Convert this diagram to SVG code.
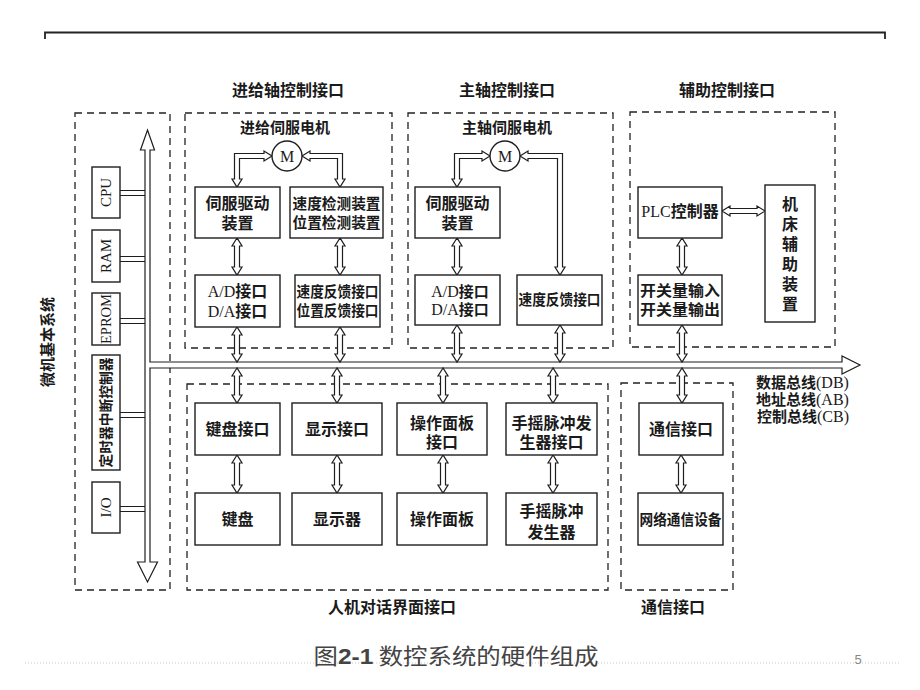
<svg xmlns="http://www.w3.org/2000/svg" width="920" height="690" viewBox="0 0 920 690">
<style>
.dash{fill:none;stroke:#222;stroke-width:1.3;stroke-dasharray:7 5}
.box{fill:#fff;stroke:#1e1e1e;stroke-width:1.4}
.arr{fill:#fff;stroke:#1e1e1e;stroke-width:1.2;stroke-linejoin:miter}
.ln{fill:none;stroke:#1e1e1e;stroke-width:1.2}
.t{font-family:"Noto Sans CJK SC","Noto Sans CJK JP",sans-serif;font-weight:700;font-size:15px;fill:#1a1a1a;text-anchor:middle}
.b{font-size:16px}
.lat{font-family:"Liberation Serif",serif;font-weight:400}
.cap{font-family:"Noto Sans CJK SC",sans-serif;font-weight:400;font-size:22px;fill:#444;text-anchor:middle}
</style>
<rect width="920" height="690" fill="#fff"/>
<path d="M45,39 V32.5 H885 V39" fill="none" stroke="#222" stroke-width="1.8"/>
<line x1="25" y1="663" x2="900" y2="663" stroke="#c8c8c8" stroke-width="1" stroke-dasharray="1 2"/>

<g id="frames">
<rect class="dash" x="75" y="113" width="95" height="477"/>
<rect class="dash" x="185" y="113" width="207" height="235"/>
<rect class="dash" x="408" y="113" width="205" height="235"/>
<rect class="dash" x="630" y="112" width="205" height="235"/>
<rect class="dash" x="187" y="384" width="421" height="206"/>
<rect class="dash" x="621" y="383" width="112" height="207"/>
</g>

<g id="labels">
<text class="t b" x="288" y="96">进给轴控制接口</text>
<text class="t b" x="507" y="96">主轴控制接口</text>
<text class="t b" x="727" y="96">辅助控制接口</text>
<text class="t b" x="392" y="613">人机对话界面接口</text>
<text class="t b" x="673" y="613">通信接口</text>
<text class="t" transform="translate(53,342) rotate(-90)">微机基本系统</text>
<text class="t" style="text-anchor:start"><tspan x="756" y="388">数据总线</tspan><tspan class="lat" style="font-size:16px">(DB)</tspan><tspan x="756" y="405">地址总线</tspan><tspan class="lat" style="font-size:16px">(AB)</tspan><tspan x="757" y="422">控制总线</tspan><tspan class="lat" style="font-size:16px">(CB)</tspan></text>
</g>

<g id="connectors">
<polygon class="arr" points="147.5,130 154.5,150 150,150 150,562 157.5,562 147.5,582 137.5,562 145,562 145,150 140.5,150"/>
<rect x="148" y="362.6" width="700" height="4.8" fill="#fff"/>
<path class="arr" d="M150,362 H842 V356 L860,365 L842,374 V368 H150"/>
<path class="ln" d="M120,190.5 H145 M120,195.5 H145 M120,256.5 H145 M120,261.5 H145 M120,318.5 H145 M120,323.5 H145 M120,412.5 H145 M120,417.5 H145 M120,506.5 H145 M120,511.5 H145"/>
<polygon class="arr" points="272,156 264,151 264,153.5 234.5,153.5 234.5,179 232,179 237,187 242,179 239.5,179 239.5,158.5 264,158.5 264,161"/>
<polygon class="arr" points="302,156 310,151 310,153.5 342.5,153.5 342.5,179 345,179 340,187 335,179 337.5,179 337.5,158.5 310,158.5 310,161"/>
<polygon class="arr" points="490,156 482,151 482,153.5 454.5,153.5 454.5,179 452,179 457,187 462,179 459.5,179 459.5,158.5 482,158.5 482,161"/>
<polygon class="arr" points="520,156 528,151 528,153.5 562.5,153.5 562.5,267 565,267 560,275 555,267 557.5,267 557.5,158.5 528,158.5 528,161"/>
<polygon class="arr" points="237,238 232,246 234.5,246 234.5,267 232,267 237,275 242,267 239.5,267 239.5,246 242,246"/>
<polygon class="arr" points="340,238 335,246 337.5,246 337.5,267 335,267 340,275 345,267 342.5,267 342.5,246 345,246"/>
<polygon class="arr" points="237,327 232,335 234.5,335 234.5,354 232,354 237,362 242,354 239.5,354 239.5,335 242,335"/>
<polygon class="arr" points="340,327 335,335 337.5,335 337.5,354 335,354 340,362 345,354 342.5,354 342.5,335 345,335"/>
<polygon class="arr" points="457,238 452,246 454.5,246 454.5,267 452,267 457,275 462,267 459.5,267 459.5,246 462,246"/>
<polygon class="arr" points="457,325 452,333 454.5,333 454.5,354 452,354 457,362 462,354 459.5,354 459.5,333 462,333"/>
<polygon class="arr" points="560,325 555,333 557.5,333 557.5,354 555,354 560,362 565,354 562.5,354 562.5,333 565,333"/>
<polygon class="arr" points="682,238 677,246 679.5,246 679.5,267 677,267 682,275 687,267 684.5,267 684.5,246 687,246"/>
<polygon class="arr" points="682,325 677,333 679.5,333 679.5,354 677,354 682,362 687,354 684.5,354 684.5,333 687,333"/>
<polygon class="arr" points="722,211 730,206 730,208.5 757,208.5 757,206 765,211 757,216 757,213.5 730,213.5 730,216"/>
<polygon class="arr" points="237,368 232,376 234.5,376 234.5,395 232,395 237,403 242,395 239.5,395 239.5,376 242,376"/>
<polygon class="arr" points="337,368 332,376 334.5,376 334.5,395 332,395 337,403 342,395 339.5,395 339.5,376 342,376"/>
<polygon class="arr" points="443,368 438,376 440.5,376 440.5,395 438,395 443,403 448,395 445.5,395 445.5,376 448,376"/>
<polygon class="arr" points="553,368 548,376 550.5,376 550.5,395 548,395 553,403 558,395 555.5,395 555.5,376 558,376"/>
<polygon class="arr" points="682,368 677,376 679.5,376 679.5,395 677,395 682,403 687,395 684.5,395 684.5,376 687,376"/>
<polygon class="arr" points="237,455 232,463 234.5,463 234.5,485 232,485 237,493 242,485 239.5,485 239.5,463 242,463"/>
<polygon class="arr" points="337,455 332,463 334.5,463 334.5,485 332,485 337,493 342,485 339.5,485 339.5,463 342,463"/>
<polygon class="arr" points="443,455 438,463 440.5,463 440.5,485 438,485 443,493 448,485 445.5,485 445.5,463 448,463"/>
<polygon class="arr" points="553,455 548,463 550.5,463 550.5,485 548,485 553,493 558,485 555.5,485 555.5,463 558,463"/>
<polygon class="arr" points="681,455 676,463 678.5,463 678.5,485 676,485 681,493 686,485 683.5,485 683.5,463 686,463"/>
</g>

<g id="cpu"><rect class="box" x="92" y="167" width="28" height="51"/><text class="t lat" transform="translate(111,192.5) rotate(-90)" style="font-size:15px">CPU</text></g>
<g id="ram"><rect class="box" x="92" y="230" width="28" height="52"/><text class="t lat" transform="translate(111,256) rotate(-90)" style="font-size:15px">RAM</text></g>
<g id="eprom"><rect class="box" x="92" y="293" width="28" height="52"/><text class="t lat" transform="translate(111,319) rotate(-90)" style="font-size:14px" textLength="50" lengthAdjust="spacingAndGlyphs">EPROM</text></g>
<g id="timer"><rect class="box" x="92" y="355" width="28" height="115"/><text class="t" transform="translate(111,412.5) rotate(-90)" style="font-size:14px" textLength="110" lengthAdjust="spacingAndGlyphs">定时器中断控制器</text></g>
<g id="io"><rect class="box" x="92" y="482" width="28" height="51"/><text class="t lat" transform="translate(111,507.5) rotate(-90)" style="font-size:15px">I/O</text></g>

<g id="feed-motor"><text class="t" x="285" y="133">进给伺服电机</text><circle class="box" cx="287" cy="156" r="15"/><text class="t lat" x="287" y="162" style="font-size:16px">M</text></g>
<g id="feed-drive"><rect class="box" x="195" y="187" width="85" height="51"/><text class="t b"><tspan x="237.5" y="209">伺服驱动</tspan><tspan x="237.5" y="229">装置</tspan></text></g>
<g id="feed-detect"><rect class="box" x="290" y="187" width="93" height="51"/><text class="t"><tspan x="336.5" y="209" textLength="88" lengthAdjust="spacingAndGlyphs">速度检测装置</tspan><tspan x="336.5" y="228" textLength="88" lengthAdjust="spacingAndGlyphs">位置检测装置</tspan></text></g>
<g id="feed-adda"><rect class="box" x="195" y="275" width="85" height="52"/><text class="t b"><tspan x="237.5" y="297"><tspan class="lat">A/D</tspan>接口</tspan><tspan x="237.5" y="317"><tspan class="lat">D/A</tspan>接口</tspan></text></g>
<g id="feed-feedback"><rect class="box" x="295" y="275" width="85" height="52"/><text class="t"><tspan x="337.5" y="297" textLength="82" lengthAdjust="spacingAndGlyphs">速度反馈接口</tspan><tspan x="337.5" y="316" textLength="82" lengthAdjust="spacingAndGlyphs">位置反馈接口</tspan></text></g>

<g id="spindle-motor"><text class="t" x="507" y="133">主轴伺服电机</text><circle class="box" cx="505" cy="156" r="15"/><text class="t lat" x="505" y="162" style="font-size:16px">M</text></g>
<g id="spindle-drive"><rect class="box" x="415" y="187" width="85" height="51"/><text class="t b"><tspan x="457.5" y="209">伺服驱动</tspan><tspan x="457.5" y="229">装置</tspan></text></g>
<g id="spindle-adda"><rect class="box" x="415" y="275" width="85" height="50"/><text class="t"><tspan x="460" y="297"><tspan class="lat" style="font-size:16px">A/D</tspan>接口</tspan><tspan x="460" y="315"><tspan class="lat" style="font-size:16px">D/A</tspan>接口</tspan></text></g>
<g id="spindle-feedback"><rect class="box" x="517" y="275" width="85" height="50"/><text class="t" x="559.5" y="305" textLength="82" lengthAdjust="spacingAndGlyphs">速度反馈接口</text></g>

<g id="plc"><rect class="box" x="638" y="187" width="84" height="51"/><text class="t b" x="680" y="217"><tspan class="lat">PLC</tspan>控制器</text></g>
<g id="aux-device"><rect class="box" x="765" y="185" width="50" height="137"/><text class="t b"><tspan x="790" y="210">机</tspan><tspan x="790" y="230">床</tspan><tspan x="790" y="250">辅</tspan><tspan x="790" y="270">助</tspan><tspan x="790" y="290">装</tspan><tspan x="790" y="310">置</tspan></text></g>
<g id="switch-io"><rect class="box" x="638" y="275" width="84" height="50"/><text class="t"><tspan x="680" y="296" textLength="80" lengthAdjust="spacingAndGlyphs">开关量输入</tspan><tspan x="680" y="315" textLength="80" lengthAdjust="spacingAndGlyphs">开关量输出</tspan></text></g>

<g id="kbd-if"><rect class="box" x="195" y="403" width="85" height="52"/><text class="t b" x="237.5" y="435">键盘接口</text></g>
<g id="disp-if"><rect class="box" x="292" y="403" width="90" height="52"/><text class="t b" x="337" y="435">显示接口</text></g>
<g id="panel-if"><rect class="box" x="397" y="403" width="90" height="52"/><text class="t b"><tspan x="442" y="429">操作面板</tspan><tspan x="442" y="448">接口</tspan></text></g>
<g id="mpg-if"><rect class="box" x="506" y="403" width="91" height="52"/><text class="t b"><tspan x="551.5" y="429">手摇脉冲发</tspan><tspan x="551.5" y="448">生器接口</tspan></text></g>
<g id="kbd"><rect class="box" x="195" y="493" width="85" height="52"/><text class="t b" x="237.5" y="525">键盘</text></g>
<g id="disp"><rect class="box" x="292" y="493" width="90" height="52"/><text class="t b" x="337" y="525">显示器</text></g>
<g id="panel"><rect class="box" x="397" y="493" width="90" height="52"/><text class="t b" x="442" y="525">操作面板</text></g>
<g id="mpg"><rect class="box" x="506" y="493" width="91" height="52"/><text class="t b"><tspan x="551.5" y="517">手摇脉冲</tspan><tspan x="551.5" y="538">发生器</tspan></text></g>
<g id="comm-if"><rect class="box" x="639" y="403" width="84" height="52"/><text class="t b" x="681" y="435">通信接口</text></g>
<g id="network"><rect class="box" x="638" y="493" width="85" height="52"/><text class="t" x="680.5" y="525" textLength="82" lengthAdjust="spacingAndGlyphs">网络通信设备</text></g>

<g id="caption">
<text class="cap" x="456" y="664" textLength="285" lengthAdjust="spacingAndGlyphs">图<tspan style="font-family:'Liberation Sans',sans-serif;font-weight:700">2-1</tspan> 数控系统的硬件组成</text>
<text x="858" y="664" style="font-family:'Liberation Sans',sans-serif;font-size:13px;fill:#888" text-anchor="middle">5</text>
</g>
</svg>
